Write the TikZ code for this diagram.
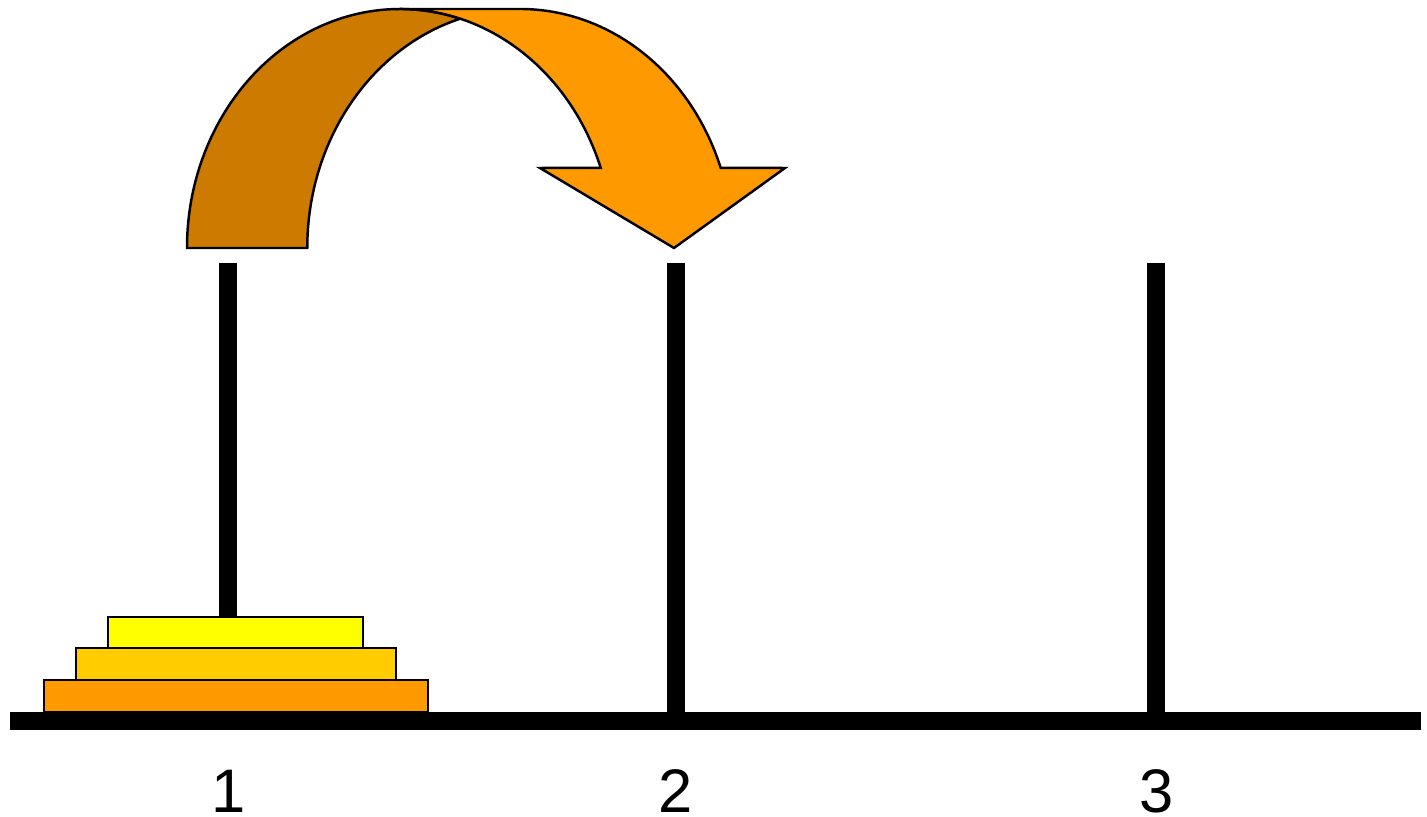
\documentclass[tikz,border=0pt]{standalone}
\usepackage{fontspec}
\setmainfont{Liberation Sans}
\definecolor{darkarrow}{RGB}{204,122,0}
\definecolor{lightarrow}{RGB}{255,153,0}
\definecolor{diskA}{RGB}{255,255,0}
\definecolor{diskB}{RGB}{255,204,0}
\definecolor{diskC}{RGB}{255,153,0}
\tikzset{
  bar/.style={fill=black},
  disk/.style={draw=black, line width=1.2pt},
  arrowpart/.style={draw=black, line width=1.4pt, line join=miter},
  lbl/.style={font=\fontsize{35}{40}\selectfont, anchor=base, inner sep=0pt}
}
\begin{document}
\begin{tikzpicture}[x=0.02cm,y=0.02cm]
\useasboundingbox (0,0) rectangle (1427,817);
% base
\fill[bar] (10,87) rectangle (1421,105);
% pegs
\fill[bar] (219,104) rectangle (237,554);
\fill[bar] (667,104) rectangle (685,554);
\fill[bar] (1147,104) rectangle (1165,554);
% disks
\filldraw[disk, fill=diskC] (44,105) rectangle (428,137);
\filldraw[disk, fill=diskB] (76,137) rectangle (396,169);
\filldraw[disk, fill=diskA] (108,169) rectangle (363,200);
% curved arrow, dark back part
\filldraw[arrowpart, fill=darkarrow] (187,569)
  arc[start angle=180, end angle=73.6, x radius=213, y radius=239]
  arc[start angle=106.4, end angle=180, x radius=213, y radius=239]
  -- cycle;
% light front part with head
\filldraw[arrowpart, fill=lightarrow] (400,808) -- (520,808)
  arc[start angle=90, end angle=19.6, x radius=213, y radius=239]
  -- (785,649) -- (674,569) -- (540,649) -- (600.7,649.2)
  arc[start angle=19.6, end angle=90, x radius=213, y radius=239]
  -- cycle;
% labels
\node[lbl] (l1) at (229,4) {1};
\node[lbl] (l2) at (676,4) {2};
\node[lbl] (l3) at (1157,4) {3};
\end{tikzpicture}
\end{document}
